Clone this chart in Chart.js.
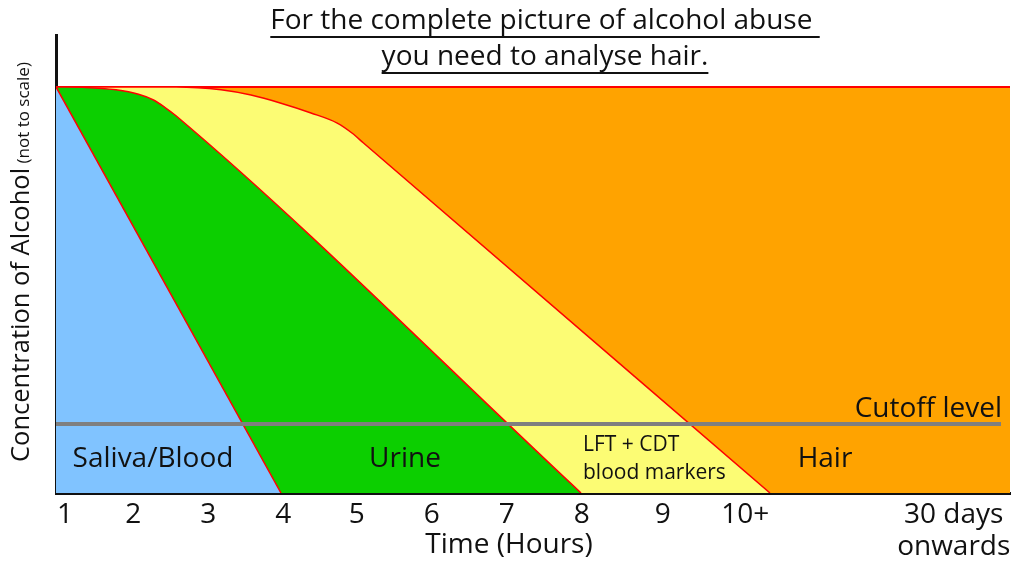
<!DOCTYPE html>
<html>
<head>
<meta charset="utf-8">
<script src="https://cdn.jsdelivr.net/npm/chart.js@4.4.1/dist/chart.umd.min.js"></script>
<style>
  html, body { margin: 0; padding: 0; background: #fff; }
  #wrap { width: 1015px; height: 563px; }
</style>
</head>
<body>
<div id="wrap"><canvas id="c"></canvas></div>
<script>
// Time axis labels and where they sit (hours)
const tickLabels = ['1', '2', '3', '4', '5', '6', '7', '8', '9', '10+', ['30 days', 'onwards']];
const tickValues = [1.12, 2.03, 3.03, 4.03, 5.01, 6.01, 7.01, 8.01, 9.09, 10.19, 12.97];

// Boundary curves (time, relative concentration)
const salivaX = [1, 4];
const salivaY = [100, 0];
const urineX = [1, 1.4, 1.8, 2.1, 2.3, 2.45, 2.6, 8];
const urineY = [100, 99.9, 99.3, 98.2, 96.8, 95.0, 92.9, 0];
const markersX = [1, 2.6, 3.2, 3.6, 4.0, 4.4, 4.75, 4.95, 5.1, 10.52];
const markersY = [100, 100, 99.3, 98.0, 96.0, 93.6, 91.1, 88.6, 86.2, 0];
const hairX = [1, 13.72];
const hairY = [100, 100];
const cutoffX = [1, 13.6];
const cutoffY = [17, 17];

const FONT = '"Open Sans", "Noto Sans", sans-serif';
const pts = (xs, ys) => xs.map((x, i) => ({ x: x, y: ys[i] }));

const textPlugin = {
    id: 'texts',
    afterDraw(chart) {
        const ctx = chart.ctx;
        ctx.save();
        ctx.fillStyle = '#111';
        ctx.textBaseline = 'middle';

        // underlined title
        ctx.font = '28px ' + FONT;
        ctx.textAlign = 'center';
        [['For the complete picture of alcohol abuse ', 21], ['you need to analyse hair.', 57]].forEach(([t, y]) => {
            ctx.fillText(t, 545, y);
            const w = ctx.measureText(t).width;
            ctx.fillRect(545 - w / 2, y + 15, w, 2);
        });

        // region labels
        ctx.font = '28px ' + FONT;
        ctx.fillText('Saliva/Blood', 153, 459);
        ctx.fillText('Urine', 405, 459);
        ctx.fillText('Hair', 825, 459);
        ctx.textAlign = 'left';
        ctx.font = '21px ' + FONT;
        ctx.fillText('LFT + CDT', 583, 445);
        ctx.fillText('blood markers', 583, 473);
        ctx.textAlign = 'right';
        ctx.font = '28px ' + FONT;
        ctx.fillText('Cutoff level', 1002, 409);

        // x axis title
        ctx.textAlign = 'center';
        ctx.fillText('Time (Hours)', 509, 545);

        // y axis title, rotated
        ctx.translate(22, 462);
        ctx.rotate(-Math.PI / 2);
        ctx.textAlign = 'left';
        ctx.font = '25.5px ' + FONT;
        const main = 'Concentration of Alcohol';
        ctx.fillText(main, 0, 0);
        const mw = ctx.measureText(main).width;
        ctx.font = '17px ' + FONT;
        ctx.fillText(' (not to scale)', mw, 2);
        ctx.restore();
    }
};

new Chart(document.getElementById('c'), {
    type: 'line',
    data: {
        datasets: [
            { data: pts(cutoffX, cutoffY), borderColor: '#7F7F7F', borderWidth: 4, fill: false, order: 0 },
            { data: pts(salivaX, salivaY), borderColor: '#FF0000', borderWidth: 1.5, backgroundColor: '#80C3FF', fill: 'origin', order: 1 },
            { data: pts(urineX, urineY), borderColor: '#FF0000', borderWidth: 1.5, backgroundColor: '#0CCF00', fill: 'origin', order: 2, cubicInterpolationMode: 'monotone' },
            { data: pts(markersX, markersY), borderColor: '#FF0000', borderWidth: 1.5, backgroundColor: '#FCFC74', fill: 'origin', order: 3, cubicInterpolationMode: 'monotone' },
            { data: pts(hairX, hairY), borderColor: '#FF0000', borderWidth: 2, backgroundColor: '#FFA300', fill: 'origin', order: 4 }
        ]
    },
    options: {
        responsive: true,
        maintainAspectRatio: false,
        animation: false,
        events: [],
        layout: { padding: { left: 56, top: 35, right: 5, bottom: 0 } },
        elements: { point: { radius: 0 }, line: { tension: 0 } },
        plugins: { legend: { display: false }, tooltip: { enabled: false } },
        scales: {
            x: {
                type: 'linear',
                min: 1,
                max: 13.72,
                grid: { display: false, drawTicks: false },
                border: { color: '#111', width: 3 },
                afterBuildTicks: (s) => { s.ticks = tickValues.map(v => ({ value: v })); },
                afterFit: (s) => { s.height = 70; s.paddingLeft = 0; s.paddingRight = 0; },
                ticks: {
                    autoSkip: false,
                    maxRotation: 0,
                    padding: 6,
                    color: '#111',
                    font: { family: FONT, size: 28, lineHeight: 1.15 },
                    callback: (v, i) => tickLabels[i]
                }
            },
            y: {
                min: 0,
                max: 112.8,
                grid: { display: false, drawTicks: false },
                border: { color: '#111', width: 3 },
                ticks: { display: false },
                afterFit: (s) => { s.width = 0; }
            }
        }
    },
    plugins: [textPlugin]
});
</script>
</body>
</html>
